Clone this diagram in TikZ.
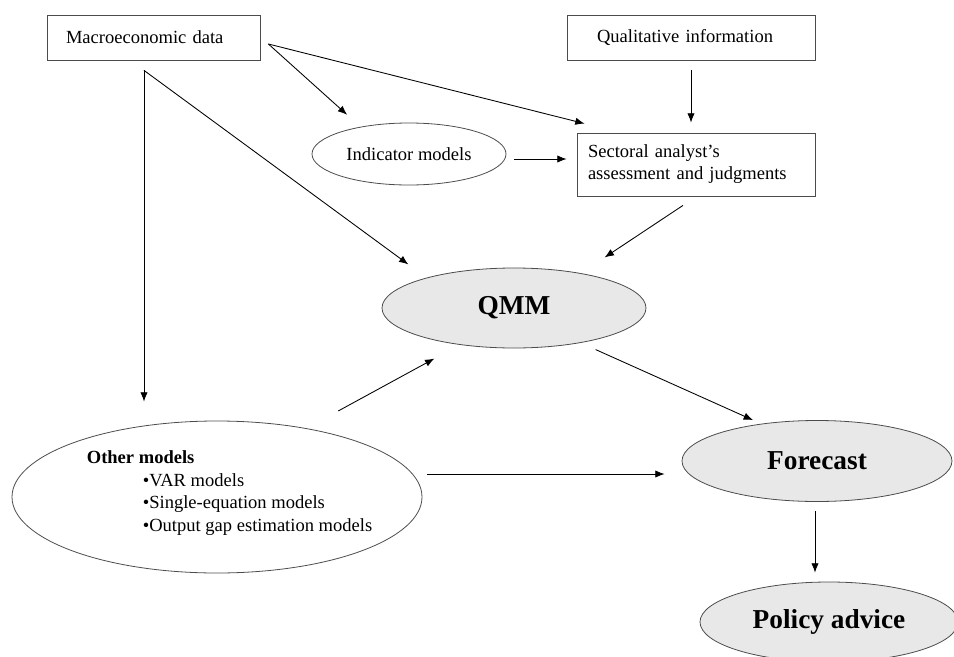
\documentclass[tikz,border=0pt]{standalone}
\usepackage{fontspec}
\setmainfont{Liberation Serif}
\usetikzlibrary{shapes.geometric,arrows.meta,calc}

\tikzset{
	box/.style={rectangle, draw=black!70, line width=0.6pt, inner ysep=0pt, align=left},
	oval/.style={ellipse, draw=black!70, line width=0.6pt, inner sep=0pt},
	greyoval/.style={oval, fill=black!9, font=\fontsize{20.5}{24}\selectfont\bfseries},
	arr/.style={-{Latex[length=7pt,width=5.5pt]}, line width=0.65pt}
}

\begin{document}
\begin{tikzpicture}[x=0.75pt, y=-0.75pt, font=\fontsize{13.9}{16.5}\selectfont]
			%%%%% START %%%%%
			
			\useasboundingbox (0, 0) rectangle (954, 657);
			
			\node[box, text width=131.25pt, inner xsep=14.25pt, minimum height=33.75pt] (macro) at (153.5, 37.5) {Macroeconomic data};
			\node[box, text width=141pt, inner xsep=22.5pt, minimum height=33.75pt] (quali) at (691, 37.5) {Qualitative information};
			\node[box, text width=162pt, inner xsep=8.25pt, minimum height=47.25pt] (sector) at (696, 164.5) {Sectoral analyst's\\assessment and judgments};
			\node[oval, minimum width=145.5pt, minimum height=46.5pt] (indic) at (409, 154) {Indicator models};
			
			\node[greyoval, minimum width=198pt, minimum height=60pt] (qmm) at (514, 308) {QMM};
			\node[greyoval, minimum width=202.5pt, minimum height=60.75pt] (fcast) at (817, 461) {Forecast};
			\node[greyoval, minimum width=193.5pt, minimum height=60pt] (policy) at (829, 622) {Policy advice};
			
			\node[oval, minimum width=307.5pt, minimum height=114pt,
			      label={[xshift=9.4pt, yshift=3pt, align=left, font=\fontsize{13.9}{17}\selectfont]center:{\textbf{Other models}\\
			      \hspace*{42pt}\textbullet VAR models\\
			      \hspace*{42pt}\textbullet Single-equation models\\
			      \hspace*{42pt}\textbullet Output gap estimation models}}] (other) at (217, 497) {};
			
			% arrows
			\coordinate (split) at ($(macro.south)+(-9.5, 10)$);
			
			\draw[arr] ($(macro.east)+(8, 6.5)$) -- ($(indic.north west)+(7, -17)$);
			\draw[arr] ($(macro.east)+(8, 6.5)$) -- ($(sector.north west)+(8, -9)$);
			\draw[arr] ($(quali.south)+(0, 10)$) -- ($(sector.north)+(-5, -10)$);
			\draw[arr] ($(indic.east)+(8, 5)$) -- ($(sector.west)+(-10, -5.5)$);
			
			\draw[arr] (split) -- ($(split |- other.north)+(0, -19)$);
			\draw[arr] (split) -- ($(qmm.north west)+(-12, -15)$);
			\draw[arr] ($(sector.south)+(-13, 9)$) -- ($(qmm.north east)+(-3, -22)$);
			\draw[arr] ($(other.north east)+(-24, -32)$) -- ($(qmm.south west)+(14, 22)$);
			
			\draw[arr] ($(qmm.south east)+(-12, 13)$) -- ($(fcast.north)+(-64, 0)$);
			\draw[arr] ($(other.east)+(5, -23)$) -- ($(fcast.west)+(-17, 13)$);
			\draw[arr] ($(fcast.south)+(-2, 9)$) -- ($(policy.north)+(-14, -9)$);
			
			%%%%% END %%%%%
\end{tikzpicture}
\end{document}
